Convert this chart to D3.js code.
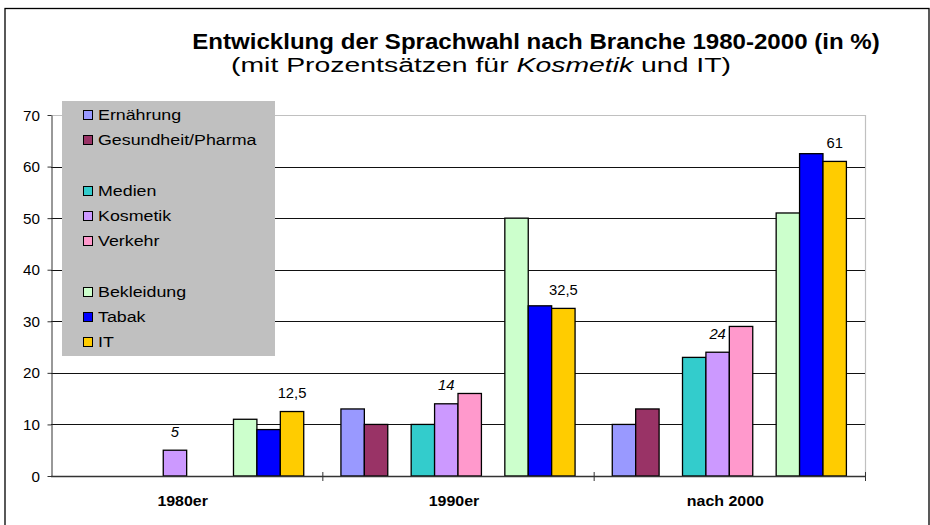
<!DOCTYPE html>
<html>
<head>
<meta charset="utf-8">
<script src="https://cdn.jsdelivr.net/npm/d3@7"></script>
<style>
  html, body { margin: 0; padding: 0; background: #fff; }
  svg { display: block; font-family: Arial, "Liberation Sans", sans-serif; }
</style>
</head>
<body>
<svg id="chart" width="930" height="525"></svg>
<script>
// ---- data ----
const categories = ["1980er", "1990er", "nach 2000"];
const seriesNames = ["Ernährung", "Gesundheit/Pharma", "Medien", "Kosmetik", "Verkehr", "Bekleidung", "Tabak", "IT"];
const ernaehrung = [0, 13, 10];
const gesundheit = [0, 10, 13];
const medien = [0, 10, 23];
const kosmetik = [5, 14, 24];
const verkehr = [0, 16, 29];
const bekleidung = [11, 50, 51];
const tabak = [9, 33, 62.5];
const it = [12.5, 32.5, 61];
const seriesColors = ["#9999FF", "#993366", "#33CCCC", "#CC99FF", "#FF99CC", "#CCFFCC", "#0000FF", "#FFCC00"];
// slot order inside each category (empty slots create the gaps, as in the legend)
const slots = ["Ernährung", "Gesundheit/Pharma", "_gap1", "Medien", "Kosmetik", "Verkehr", "_gap2", "Bekleidung", "Tabak", "IT"];
const yTicks = [0, 10, 20, 30, 40, 50, 60, 70];
const labelledSeries = { "Kosmetik": "italic", "IT": "normal" };

const values = [ernaehrung, gesundheit, medien, kosmetik, verkehr, bekleidung, tabak, it];

// ---- layout ----
const svg = d3.select("#chart");
const plot = { left: 51, right: 865, top: 115, bottom: 476 };

const x0 = d3.scaleBand().domain(categories).range([plot.left, plot.right]).padding(0);
const bandPad = 18.6;
const x1 = d3.scaleBand().domain(slots).range([bandPad, x0.bandwidth() - bandPad]).padding(0);
const y = d3.scaleLinear().domain([0, 70]).range([plot.bottom, plot.top]);

function stretchedText(parent, x, yy, txt, opts) {
  const g = parent.append("g").attr("transform", `translate(${x},${yy}) scale(${opts.sx || 1},1)`);
  const t = g.append("text")
    .attr("x", 0).attr("y", 0)
    .attr("text-anchor", opts.anchor || "start")
    .attr("font-size", opts.size)
    .attr("font-weight", opts.weight || "normal")
    .attr("font-style", opts.style || "normal")
    .attr("fill", "#000");
  if (Array.isArray(txt)) {
    txt.forEach(p => t.append("tspan").attr("font-style", p.style || "normal").text(p.text));
  } else t.text(txt);
  if (opts.length) t.attr("textLength", opts.length).attr("lengthAdjust", "spacingAndGlyphs");
  return t;
}

// outer frame
svg.append("rect").attr("x", 5).attr("y", 8.5).attr("width", 924).attr("height", 530)
  .attr("fill", "none").attr("stroke", "#000").attr("stroke-width", 1.3);

// title
stretchedText(svg, 536, 49, "Entwicklung der Sprachwahl nach Branche 1980-2000 (in %)", { anchor: "middle", size: 21.5, weight: "bold", sx: 1.12 });
stretchedText(svg, 231, 71.5, [
  { text: "(mit Prozentsätzen für " },
  { text: "Kosmetik", style: "italic" },
  { text: " und IT)" }
], { anchor: "start", size: 20, length: 500 });

// plot area border (gray top & right)
svg.append("path")
  .attr("d", `M${plot.left},${plot.top + 0.5}H${plot.right + 0.5}V${plot.bottom}`)
  .attr("fill", "none").attr("stroke", "#c0c0c0").attr("stroke-width", 1.2);

// gridlines
svg.append("g").selectAll("line")
  .data(yTicks.filter(d => d > 0 && d < 70))
  .join("line")
  .attr("x1", plot.left).attr("x2", plot.right)
  .attr("y1", d => Math.round(y(d)) + 0.5).attr("y2", d => Math.round(y(d)) + 0.5)
  .attr("stroke", "#111").attr("stroke-width", 1);

// y axis
const yAxis = d3.axisLeft(y).tickValues(yTicks).tickSize(4).tickSizeOuter(0).tickFormat(d3.format("d"));
const yg = svg.append("g").attr("transform", `translate(${plot.left + 0.5},0)`).call(yAxis);
yg.select(".domain").attr("stroke", "#333");
yg.selectAll(".tick line").attr("stroke", "#333");
yg.selectAll(".tick text").remove();
yg.selectAll(".tick").each(function(d) {
  stretchedText(d3.select(this), -11.5, 5, d3.format("d")(d), { anchor: "end", size: 14.5, sx: 1.05 });
});

// bars
const barData = [];
categories.forEach((c, ci) => {
  seriesNames.forEach((s, si) => {
    const v = values[si][ci];
    if (v > 0) barData.push({ cat: c, series: s, value: v, color: seriesColors[si] });
  });
});

svg.append("g").selectAll("rect")
  .data(barData)
  .join("rect")
  .attr("x", d => x0(d.cat) + x1(d.series))
  .attr("y", d => y(d.value))
  .attr("width", x1.bandwidth())
  .attr("height", d => y(0) - y(d.value))
  .attr("fill", d => d.color)
  .attr("stroke", "#000")
  .attr("stroke-width", 1.3);

// data labels
const labelG = svg.append("g");
barData.filter(d => labelledSeries[d.series]).forEach(d => {
  stretchedText(labelG, x0(d.cat) + x1(d.series) + x1.bandwidth() / 2, y(d.value) - 13.5,
    String(d.value).replace(".", ","), { anchor: "middle", size: 14.5, style: labelledSeries[d.series], sx: 1.02 });
});

// x axis
svg.append("line").attr("x1", plot.left).attr("x2", plot.right)
  .attr("y1", plot.bottom + 0.5).attr("y2", plot.bottom + 0.5)
  .attr("stroke", "#333").attr("stroke-width", 1.3);
const boundaries = categories.map(c => x0(c)).concat([plot.right]).slice(1);
svg.append("g").selectAll("line").data(boundaries).join("line")
  .attr("x1", d => d + 0.5).attr("x2", d => d + 0.5)
  .attr("y1", plot.bottom - 4).attr("y2", plot.bottom + 5)
  .attr("stroke", "#333").attr("stroke-width", 1);

categories.forEach(c => {
  stretchedText(svg, x0(c) + x0.bandwidth() / 2 - 4, 506, c, { anchor: "middle", size: 14, weight: "bold", sx: 1.14 });
});

// legend
const legend = svg.append("g");
legend.append("rect").attr("x", 62).attr("y", 101).attr("width", 213).attr("height", 255).attr("fill", "#c0c0c0");
const legendSlots = ["Ernährung", "Gesundheit/Pharma", null, "Medien", "Kosmetik", "Verkehr", null, "Bekleidung", "Tabak", "IT"];
legendSlots.forEach((name, i) => {
  if (!name) return;
  const cy = 114.5 + i * 25.25;
  const si = seriesNames.indexOf(name);
  legend.append("rect").attr("x", 83.5).attr("y", Math.round(cy - 4.5) + 0.5).attr("width", 9).attr("height", 9)
    .attr("fill", seriesColors[si]).attr("stroke", "#000").attr("stroke-width", 1);
  stretchedText(legend, 98, cy + 5.5, name, { size: 15.5, sx: 1.15 });
});
</script>
</body>
</html>
